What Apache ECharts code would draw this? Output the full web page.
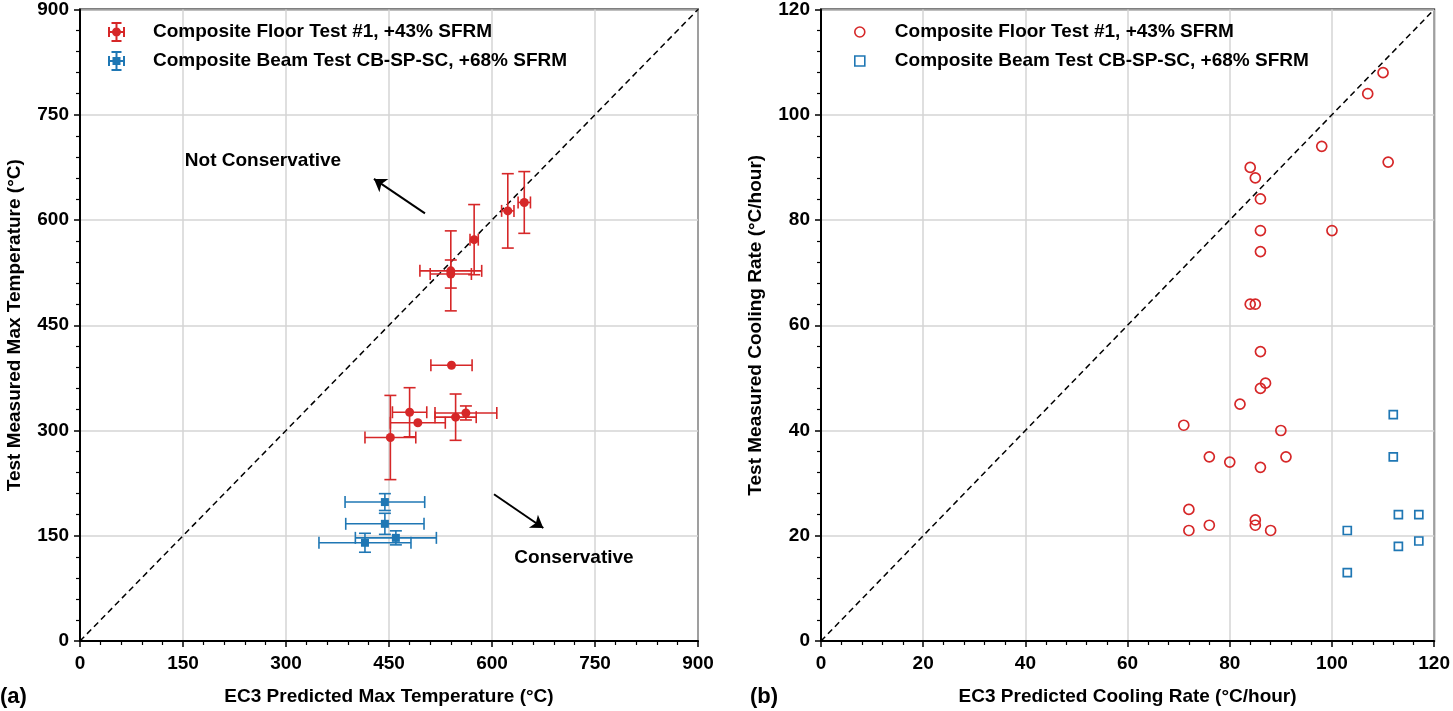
<!DOCTYPE html>
<html>
<head>
<meta charset="utf-8">
<script src="https://cdn.jsdelivr.net/npm/echarts@6/dist/echarts.min.js"></script>
<style>
html,body{margin:0;padding:0;background:#fff;}
#chart{width:1453px;height:711px;}
</style>
</head>
<body>
<div id="chart"></div>
<script>
// ---------- DATA ----------
// Max temperature: [EC3 predicted, test measured, x error, y error]
const floorMaxTemp = [
  [540, 527.5, 45, 57],
  [540, 523, 30, 20],
  [574, 572, 6, 50],
  [623, 613, 9, 53],
  [647, 625, 9, 44],
  [541, 393, 30, 0],
  [480, 326, 25, 35],
  [492, 311, 40, 0],
  [452, 290, 37, 60],
  [547, 319, 30, 33],
  [562, 325, 45, 10]
];
const beamMaxTemp = [
  [444, 198, 58, 12],
  [444, 167, 57, 15],
  [415, 140, 67, 13.5],
  [460, 147, 59, 10]
];
// Cooling rate: [EC3 predicted, test measured]
const floorCooling = [
  [110,108],[107,104],[98,94],[111,91],[84,90],[85,88],[86,84],[86,78],[100,78],[86,74],
  [84,64],[85,64],[86,55],[87,49],[86,48],[82,45],[90,40],[71,41],[76,35],[80,34],
  [86,33],[91,35],[72,25],[72,21],[76,22],[85,23],[85,22],[88,21]
];
const beamCooling = [
  [112,43],[112,35],[113,24],[117,24],[113,18],[117,19],[103,21],[103,13]
];
const seriesNames = ['Composite Floor Test #1, +43% SFRM', 'Composite Beam Test CB-SP-SC, +68% SFRM'];
const maxTempTicks = {min: 0, max: 900, interval: 150};
const coolingTicks = {min: 0, max: 120, interval: 20};
const annotations = [[266.5, 685, 'Not Conservative'], [719.4, 118, 'Conservative']];
const arrows = [[[502.4, 609.4], [428.1, 658.5]], [[602.9, 209.2], [674.7, 161]]];
const axisTitles = {
  ax: 'EC3 Predicted Max Temperature (°C)', ay: 'Test Measured Max Temperature (°C)',
  bx: 'EC3 Predicted Cooling Rate (°C/hour)', by: 'Test Measured Cooling Rate (°C/hour)'
};

// ---------- STYLE ----------
const RED = '#d62728', BLUE = '#1f77b4';
const FONT = '"Liberation Sans", Arial, Helvetica, sans-serif';

function axis(gridIndex, ticks, name, gap, labelMargin) {
  return {
    type: 'value', gridIndex: gridIndex, min: ticks.min, max: ticks.max, interval: ticks.interval,
    name: name, nameLocation: 'middle', nameGap: gap,
    nameTextStyle: {fontFamily: FONT, fontWeight: 'bold', fontSize: 19, color: '#000'},
    axisLine: {show: true, lineStyle: {color: '#000', width: 2}},
    axisTick: {show: true, inside: false, length: 6, lineStyle: {color: '#000', width: 1.5}},
    minorTick: {show: true, splitNumber: 5, length: 4, lineStyle: {color: '#000', width: 1.2}},
    splitLine: {show: true, lineStyle: {color: '#d4d4d4', width: 1.5}},
    axisLabel: {fontFamily: FONT, fontWeight: 'bold', fontSize: 19, color: '#000', margin: labelMargin}
  };
}

function errRender(color) {
  return function (params, api) {
    const x = api.value(0), y = api.value(1), xe = api.value(2), ye = api.value(3);
    const c = api.coord([x, y]);
    const cap = 6;
    const st = {stroke: color, lineWidth: 1.6};
    const kids = [];
    const ln = (x1, y1, x2, y2) => ({type: 'line', shape: {x1, y1, x2, y2}, style: st});
    if (xe > 0) {
      const l = api.coord([x - xe, y])[0], r = api.coord([x + xe, y])[0];
      kids.push(ln(l, c[1], r, c[1]), ln(l, c[1] - cap, l, c[1] + cap), ln(r, c[1] - cap, r, c[1] + cap));
    }
    if (ye > 0) {
      const t = api.coord([x, y + ye])[1], b = api.coord([x, y - ye])[1];
      kids.push(ln(c[0], t, c[0], b), ln(c[0] - cap, t, c[0] + cap, t), ln(c[0] - cap, b, c[0] + cap, b));
    }
    return {type: 'group', children: kids};
  };
}

const bars = 'M7.5 0h2v20h-2z M3.5 0h10v2h-10z M3.5 18h10v2h-10z M0 9h17v2h-17z M0 5h2v10h-2z M15 5h2v10h-2z ';
const iconRed = 'path://' + bars + 'M4 10a4.5 4.5 0 1 1 9 0a4.5 4.5 0 1 1 -9 0z';
const iconBlue = 'path://' + bars + 'M4.5 6h8v8h-8z';

const legendText = {fontFamily: FONT, fontWeight: 'bold', fontSize: 19, color: '#000', lineHeight: 22};

const chart = echarts.init(document.getElementById('chart'), null, {renderer: 'canvas'});
chart.setOption({
  animation: false,
  backgroundColor: '#fff',
  grid: [
    {left: 80, top: 8, width: 618, height: 641, show: true, borderColor: '#000', borderWidth: 2, backgroundColor: 'transparent'},
    {left: 821, top: 8, width: 617, height: 640, show: true, borderColor: '#000', borderWidth: 2, backgroundColor: 'transparent'}
  ],
  xAxis: [axis(0, maxTempTicks, axisTitles.ax, 46, 13), axis(1, coolingTicks, axisTitles.bx, 46, 13)],
  yAxis: [axis(0, maxTempTicks, axisTitles.ay, 56, 11), axis(1, coolingTicks, axisTitles.by, 56, 11)],
  legend: [
    {
      left: 108, top: 21, padding: 0, orient: 'vertical', itemWidth: 17, itemHeight: 20, itemGap: 7,
      textStyle: Object.assign({padding: [0, 0, 0, 23]}, legendText),
      data: [{name: seriesNames[0], icon: iconRed}, {name: seriesNames[1], icon: iconBlue}],
      selectedMode: false
    },
    {
      left: 854, top: 21, padding: 0, orient: 'vertical', itemWidth: 10, itemHeight: 10, itemGap: 7,
      textStyle: Object.assign({padding: [0, 0, 0, 25]}, legendText),
      data: [
        {name: seriesNames[0] + ' ', icon: 'circle', itemStyle: {color: 'rgba(255,255,255,0)', borderColor: RED, borderWidth: 1.6}},
        {name: seriesNames[1] + ' ', icon: 'rect', itemStyle: {color: 'rgba(255,255,255,0)', borderColor: BLUE, borderWidth: 1.6}}
      ],
      selectedMode: false
    }
  ],
  graphic: [
    {type: 'text', left: 0, top: 686, style: {text: '(a)', font: 'bold 22px ' + FONT, fill: '#000'}},
    {type: 'text', left: 750, top: 686, style: {text: '(b)', font: 'bold 22px ' + FONT, fill: '#000'}}
  ],
  series: [
    // ----- plot (a) -----
    {
      name: 'diag-a', type: 'line', xAxisIndex: 0, yAxisIndex: 0, data: [[0, 0], [900, 900]],
      symbol: 'none', silent: true, lineStyle: {color: '#000', width: 1.5, type: [6, 4]}, z: 2,
      markLine: {
        silent: true, symbol: ['none', 'arrow'], symbolSize: 12,
        lineStyle: {color: '#000', width: 2, type: 'solid'}, label: {show: false},
        data: arrows.map(a => [{coord: a[0]}, {coord: a[1]}])
      }
    },
    {
      name: 'notes', type: 'scatter', xAxisIndex: 0, yAxisIndex: 0, symbolSize: 0, silent: true,
      itemStyle: {opacity: 1},
      data: annotations,
      label: {show: true, position: 'inside', formatter: p => p.value[2],
        fontFamily: FONT, fontWeight: 'bold', fontSize: 19, color: '#000', opacity: 1}
    },
    {name: 'err-floor', type: 'custom', xAxisIndex: 0, yAxisIndex: 0, renderItem: errRender(RED), data: floorMaxTemp, z: 3, silent: true},
    {name: 'err-beam', type: 'custom', xAxisIndex: 0, yAxisIndex: 0, renderItem: errRender(BLUE), data: beamMaxTemp, z: 3, silent: true},
    {
      name: seriesNames[0], type: 'scatter', xAxisIndex: 0, yAxisIndex: 0, symbol: 'circle', symbolSize: 9,
      itemStyle: {color: RED, opacity: 1}, data: floorMaxTemp.map(d => [d[0], d[1]]), z: 4
    },
    {
      name: seriesNames[1], type: 'scatter', xAxisIndex: 0, yAxisIndex: 0, symbol: 'rect', symbolSize: 8,
      itemStyle: {color: BLUE, opacity: 1}, data: beamMaxTemp.map(d => [d[0], d[1]]), z: 4
    },
    // ----- plot (b) -----
    {
      name: 'diag-b', type: 'line', xAxisIndex: 1, yAxisIndex: 1, data: [[0, 0], [120, 120]],
      symbol: 'none', silent: true, lineStyle: {color: '#000', width: 1.5, type: [6, 4]}, z: 2
    },
    {
      name: seriesNames[0] + ' ', type: 'scatter', xAxisIndex: 1, yAxisIndex: 1, symbol: 'circle', symbolSize: 10,
      itemStyle: {color: 'rgba(255,255,255,0)', borderColor: RED, borderWidth: 1.7, opacity: 1}, data: floorCooling, z: 4
    },
    {
      name: seriesNames[1] + ' ', type: 'scatter', xAxisIndex: 1, yAxisIndex: 1, symbol: 'rect', symbolSize: 8,
      itemStyle: {color: 'rgba(255,255,255,0)', borderColor: BLUE, borderWidth: 1.7, opacity: 1}, data: beamCooling, z: 4
    }
  ]
});
</script>
</body>
</html>
